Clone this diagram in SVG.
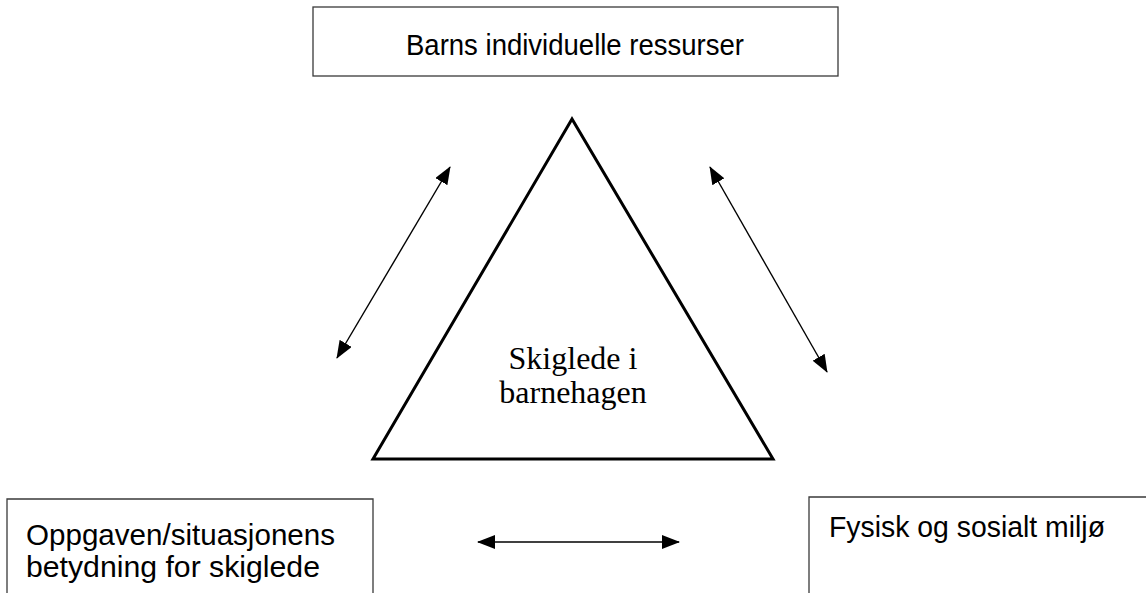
<svg xmlns="http://www.w3.org/2000/svg" width="1146" height="593" viewBox="0 0 1146 593">
<style>
.box{fill:#fff;stroke:#3a3a3a;stroke-width:1.3}
.lbl{font-family:"Liberation Sans",Arial,sans-serif;font-size:29px;fill:#000}
.tri{fill:#fff;stroke:#000;stroke-width:3;stroke-linejoin:miter}
.ser{font-family:"Liberation Serif","Times New Roman",serif;font-size:32px;fill:#000;text-anchor:middle}
.arr{stroke:#000;stroke-width:1.4;fill:none;marker-start:url(#ah);marker-end:url(#ah)}
</style>
<defs>
<marker id="ah" viewBox="0 0 18 14" refX="17" refY="7" markerWidth="18" markerHeight="14" markerUnits="userSpaceOnUse" orient="auto-start-reverse">
<path d="M0,0 L18,7 L0,14 Z" fill="#000"/>
</marker>
</defs>
<rect width="1146" height="593" fill="#fff"/>
<g id="top-node">
<rect class="box" x="313" y="7" width="525" height="69"/>
<text class="lbl" x="406" y="55" textLength="338" lengthAdjust="spacingAndGlyphs">Barns individuelle ressurser</text>
</g>
<g id="center-node">
<polygon class="tri" points="572,119 373,459 773,459"/>
<text class="ser" x="573" y="369">Skiglede i</text>
<text class="ser" x="573" y="403">barnehagen</text>
</g>
<g id="left-node">
<path class="box" d="M7,600 V499 H373 V600"/>
<text class="lbl" x="26" y="545" textLength="309" lengthAdjust="spacingAndGlyphs">Oppgaven/situasjonens</text>
<text class="lbl" x="26" y="577" textLength="294" lengthAdjust="spacingAndGlyphs">betydning for skiglede</text>
</g>
<g id="right-node">
<path class="box" d="M809,600 V497 H1150"/>
<text class="lbl" x="829" y="537" textLength="276" lengthAdjust="spacingAndGlyphs">Fysisk og sosialt miljø</text>
</g>
<g id="connectors">
<line class="arr" x1="337" y1="358" x2="450" y2="167"/>
<line class="arr" x1="710" y1="167" x2="827" y2="372"/>
<line class="arr" x1="478" y1="542" x2="679" y2="542"/>
</g>
</svg>
